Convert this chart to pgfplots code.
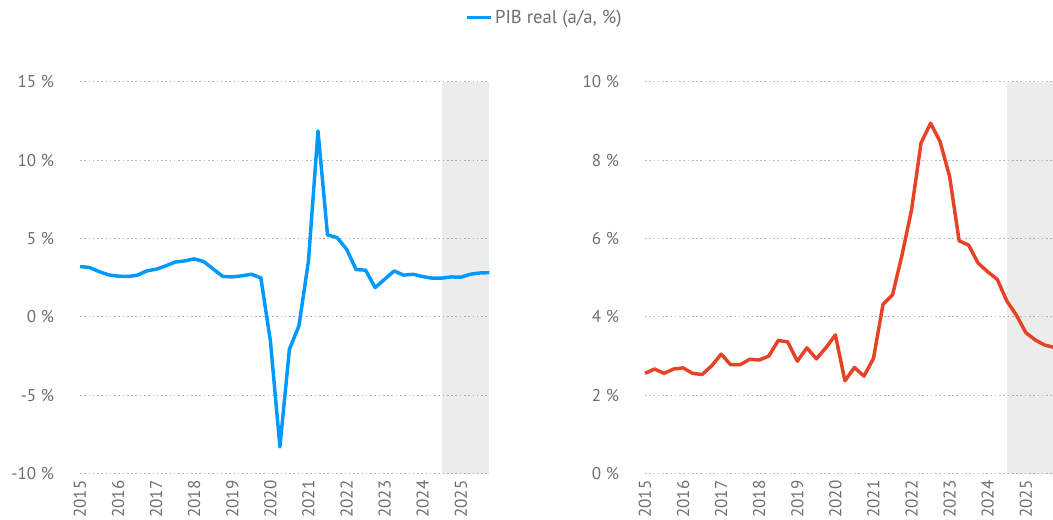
\documentclass[border=0pt]{standalone}
\usepackage{pgfplots}
\pgfplotsset{compat=1.18}
\usepackage{pgfplotstable}
\usepackage{fontspec}
\setmainfont{PT Sans}
\definecolor{pibblue}{RGB}{0,153,255}
\definecolor{infred}{RGB}{230,66,38}
\definecolor{tickgray}{RGB}{110,110,110}
\definecolor{gridgray}{RGB}{185,185,185}

\pgfplotstableread{
x y
2015.00 3.21
2015.25 3.15
2015.50 2.89
2015.75 2.68
2016.00 2.60
2016.25 2.58
2016.50 2.65
2016.75 2.93
2017.00 3.04
2017.25 3.25
2017.50 3.50
2017.75 3.57
2018.00 3.70
2018.25 3.53
2018.50 3.05
2018.75 2.58
2019.00 2.55
2019.25 2.62
2019.50 2.72
2019.75 2.49
2020.00 -1.53
2020.25 -8.29
2020.50 -2.06
2020.75 -0.57
2021.00 3.57
2021.25 11.86
2021.50 5.23
2021.75 5.06
2022.00 4.32
2022.25 3.02
2022.50 2.98
2022.75 1.87
2023.00 2.40
2023.25 2.93
2023.50 2.66
2023.75 2.72
2024.00 2.57
2024.25 2.47
2024.50 2.47
2024.75 2.55
2025.00 2.53
2025.25 2.72
2025.50 2.80
2025.75 2.82
}\pibdata

\pgfplotstableread{
x y
2015.00 2.56
2015.25 2.67
2015.50 2.56
2015.75 2.67
2016.00 2.70
2016.25 2.56
2016.50 2.53
2016.75 2.75
2017.00 3.05
2017.25 2.78
2017.50 2.78
2017.75 2.92
2018.00 2.90
2018.25 3.00
2018.50 3.40
2018.75 3.36
2019.00 2.87
2019.25 3.21
2019.50 2.93
2019.75 3.21
2020.00 3.54
2020.25 2.37
2020.50 2.71
2020.75 2.49
2021.00 2.94
2021.25 4.32
2021.50 4.56
2021.75 5.58
2022.00 6.73
2022.25 8.44
2022.50 8.94
2022.75 8.47
2023.00 7.58
2023.25 5.94
2023.50 5.83
2023.75 5.37
2024.00 5.15
2024.25 4.96
2024.50 4.41
2024.75 4.05
2025.00 3.60
2025.25 3.41
2025.50 3.28
2025.75 3.22
}\infdata

\pgfplotsset{
  panel/.style={
    scale only axis,
    width=307pt, height=294pt,
    anchor=south west,
    xmin=2015, xmax=2025.75,
    axis line style={draw=none},
    tick style={draw=none},
    xtick={2015,2016,2017,2018,2019,2020,2021,2022,2023,2024,2025},
    xticklabels={2015,2016,2017,2018,2019,2020,2021,2022,2023,2024,2025},
    xticklabel style={rotate=90, anchor=east, xshift=-1.5pt},
    yticklabel style={anchor=east, xshift=-16pt},
    every tick label/.append style={font=\fontsize{12.8pt}{15pt}\selectfont, text=tickgray},
    ymajorgrids,
    grid style={draw=gridgray, line width=0.7pt, dash pattern=on 1.2pt off 2pt},
    clip=false,
  },
}

\begin{document}
\begin{tikzpicture}
\useasboundingbox (0,0) rectangle (789.75pt,390pt);

\begin{axis}[panel,
  at={(60pt,34.725pt)},
  ymin=-10, ymax=15,
  ytick={-10,-5,0,5,10,15},
  yticklabels={-10 \%,-5 \%,0 \%,5 \%,10 \%,15 \%},
  legend style={at={(1.135,1.164)}, anchor=center, draw=none, fill=none,
    font=\fontsize{14pt}{16pt}\selectfont, text=tickgray,
    legend cell align=left},
  legend image code/.code={\draw[#1, line width=2.5pt] (0pt,0pt) -- (13.5pt,0pt);
    \path (0pt,0pt) -- (18pt,0pt);},
]
\addplot[fill=black, fill opacity=0.075, draw=none, forget plot]
  coordinates {(2024.5,-10) (2025.75,-10) (2025.75,15) (2024.5,15)};
\addplot[pibblue, line width=2.6pt, line join=round] table[x=x,y=y] {\pibdata};
\addlegendentry{PIB real (a/a, \%)}
\end{axis}

\begin{axis}[panel,
  at={(483.75pt,34.725pt)},
  ymin=0, ymax=10,
  ytick={0,2,4,6,8,10},
  yticklabels={0 \%,2 \%,4 \%,6 \%,8 \%,10 \%},
]
\addplot[fill=black, fill opacity=0.075, draw=none, forget plot]
  coordinates {(2024.5,0) (2025.75,0) (2025.75,10) (2024.5,10)};
\addplot[infred, line width=2.6pt, line join=round] table[x=x,y=y] {\infdata};
\end{axis}
\end{tikzpicture}
\end{document}
